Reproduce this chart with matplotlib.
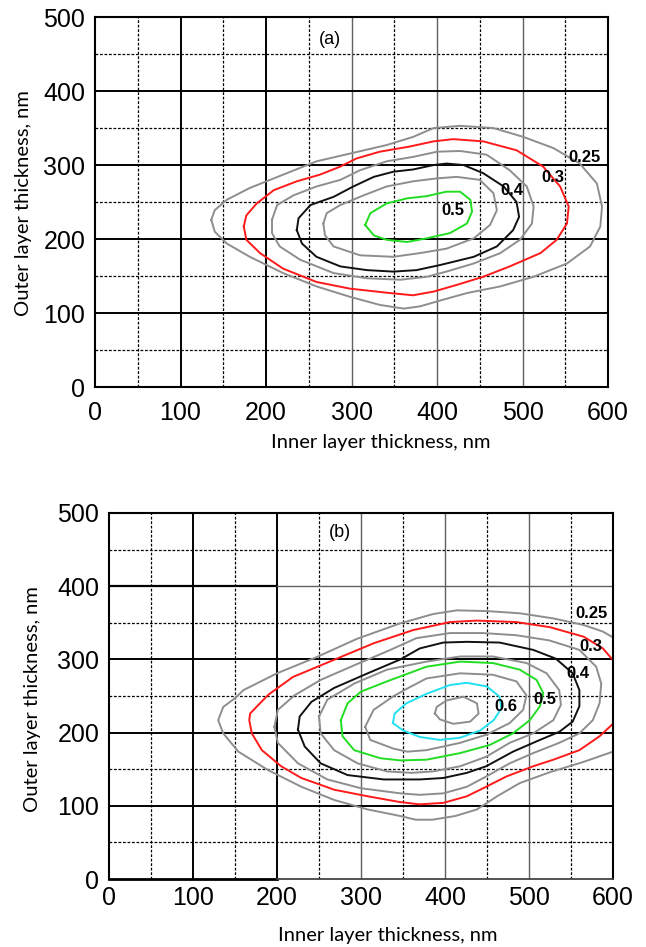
import numpy as np
import matplotlib
matplotlib.use("Agg")
from matplotlib import pyplot as plt

# contour lines, (inner nm, outer nm)
a_levels = ["0.25", "0.3", "0.35", "0.4", "0.45", "0.5"]
a_025 = [(136,226),(140,239),(154,253),(181,269),(220,287),(259,305),(300,316),(341,327),(372,338),(396,350),(427,353),(466,350),(501,338),(536,323),(567,302),(587,275),(593,244),(591,217),(579,190),(552,167),(513,149),(474,136),(435,127),(407,118),(380,109),(361,106),(333,111),(298,122),(259,136),(220,154),(181,176),(154,194),(140,210)]
a_030 = [(174,217),(177,232),(189,248),(209,266),(236,278),(263,287),(287,298),(306,309),(333,318),(368,325),(396,332),(419,335),(454,332),(493,320),(524,298),(544,271),(554,244),(552,221),(540,199),(521,181),(485,163),(454,149),(423,138),(396,129),(372,124),(345,127),(298,133),(259,142),(220,160),(193,181),(177,199)]
a_035 = [(207,226),(213,246),(232,259),(259,271),(287,280),(310,293),(341,305),(372,311),(400,318),(427,319),(458,314),(485,293),(505,271),(513,244),(511,221),(497,199),(474,181),(443,167),(411,156),(388,149),(357,145),(318,147),(279,154),(240,172),(216,190),(207,208)]
a_040 = [(236,212),(238,228),(252,246),(279,257),(302,271),(326,284),(349,291),(372,294),(396,300),(411,302),(431,300),(454,289),(478,271),(493,250),(496,230),(489,212),(470,190),(443,176),(404,165),(376,158),(349,156),(318,158),(287,163),(259,176),(242,194)]
a_045 = [(267,221),(271,235),(287,246),(314,259),(341,271),(372,278),(400,282),(423,284),(450,280),(466,262),(470,239),(462,219),(443,201),(411,187),(380,181),(349,176),(310,178),(279,190),(269,205)]
a_050 = [(316,219),(322,235),(341,248),(365,255),(388,258),(411,264),(427,264),(439,253),(441,237),(435,221),(415,208),(388,201),(365,196),(341,199),(326,205)]
a_lines = [a_025, a_030, a_035, a_040, a_045, a_050]
a_labels = [("0.25", 572, 310), ("0.3", 535, 283), ("0.4", 488, 265), ("0.5", 419, 239)]

b_levels = ["0.25", "0.3", "0.35", "0.4", "0.45", "0.5", "0.55", "0.6", "0.65"]
b_025 = [(600,174),(565,160),(525,146),(489,131),(462,113),(438,95),(412,86),(385,81),(365,81),(347,86),(308,95),(268,108),(229,126),(189,149),(154,174),(136,199),(130,217),(136,235),(150,247),(160,258),(200,281),(247,303),(295,328),(346,349),(386,362),(414,367),(450,366),(489,363),(529,356),(565,347),(588,338),(600,330)]
b_030 = [(600,212),(584,195),(560,176),(529,163),(505,154),(473,140),(449,126),(426,113),(398,104),(370,102),(347,105),(308,113),(268,122),(229,138),(205,154),(182,176),(170,199),(167,217),(168,226),(178,238),(190,252),(219,276),(267,299),(315,322),(362,340),(406,351),(438,353),(485,351),(525,344),(565,331),(588,315),(600,299)]
b_035 = [(197,208),(201,231),(221,251),(252,272),(292,292),(331,311),(366,329),(406,336),(445,336),(485,333),(524,326),(560,313),(580,290),(586,267),(584,240),(576,217),(560,199),(536,186),(505,172),(477,158),(449,140),(426,126),(398,117),(370,115),(347,117),(300,124),(260,136),(225,158),(201,186)]
b_040 = [(225,204),(227,222),(241,242),(268,261),(308,281),(347,300),(370,315),(398,323),(426,324),(465,323),(505,313),(532,301),(552,281),(560,258),(560,236),(552,215),(536,201),(513,190),(481,174),(449,154),(426,145),(398,138),(370,136),(347,136),(327,136),(284,142),(252,158),(233,181)]
b_045 = [(250,222),(260,245),(292,267),(331,286),(378,297),(418,304),(457,304),(497,295),(521,281),(536,258),(538,238),(529,217),(505,199),(477,186),(449,167),(418,154),(386,147),(360,145),(331,147),(296,158),(268,176),(252,199)]
b_050 = [(276,217),(284,240),(300,256),(331,270),(378,290),(418,297),(457,295),(489,286),(509,272),(517,254),(513,236),(501,217),(481,199),(453,183),(418,172),(378,163),(347,162),(323,165),(292,176),(278,195)]
b_055 = [(305,208),(315,231),(339,250),(358,262),(378,274),(418,281),(457,279),(485,270),(497,251),(493,231),(477,213),(449,197),(418,186),(378,176),(355,174),(339,178),(311,190)]
b_060 = [(338,213),(340,226),(354,240),(378,253),(406,265),(426,268),(450,263),(465,249),(467,233),(458,217),(442,203),(418,193),(394,190),(370,194),(350,203)]
b_065 = [(388,226),(390,235),(402,244),(422,249),(438,240),(440,226),(430,215),(410,212),(394,218)]
b_lines = [b_025, b_030, b_035, b_040, b_045, b_050, b_055, b_060, b_065]
b_open = [True, True] + [False] * 7
b_labels = [("0.25", 574, 363), ("0.3", 574, 317), ("0.4", 558, 281), ("0.5", 519, 245), ("0.6", 472, 235)]

level_colors = {"0.25": "#8e8e8e", "0.3": "#ff1a1a", "0.35": "#8e8e8e", "0.4": "#111111",
                "0.45": "#8e8e8e", "0.5": "#22dd22", "0.55": "#8e8e8e", "0.6": "#22e0f0",
                "0.65": "#8e8e8e"}

dash = (0, (2.2, 1.4))


def setup(ax, panel_b=False):
    ax.set_xlim(0, 600)
    ax.set_ylim(0, 500)
    ax.set_xticks(range(0, 601, 100))
    ax.set_yticks(range(0, 501, 100))
    ax.tick_params(length=0, labelsize=18, pad=7)
    ax.tick_params(axis="x", pad=10 if not panel_b else 5)
    for lab in ax.get_xticklabels() + ax.get_yticklabels():
        lab.set_fontfamily("Liberation Sans")
    for v in [50, 150, 250, 350, 450, 550]:
        ax.axvline(v, color="black", lw=0.9, ls=dash, zorder=1)
    for h in [50, 150, 250, 350, 450]:
        ax.axhline(h, color="black", lw=0.9, ls=dash, zorder=1)
    for v in [100, 200]:
        ax.axvline(v, color="black", lw=1.4, zorder=1)
    for v in [300, 400, 500]:
        ax.axvline(v, color="#606060", lw=1.0, zorder=1)
    for h in [100, 200, 300]:
        ax.axhline(h, color="black", lw=1.4, zorder=1)
    if panel_b:
        ax.plot([0, 200], [400, 400], color="black", lw=1.6, zorder=1)
        ax.plot([200, 600], [400, 400], color="#606060", lw=1.0, zorder=1)
        ax.spines["bottom"].set_visible(False)
        ax.plot([0, 200], [0, 0], color="black", lw=2.0, zorder=3, clip_on=False)
        ax.plot([200, 600], [0, 0], color="#444444", lw=1.3, zorder=3, clip_on=False)
    else:
        ax.axhline(400, color="black", lw=1.4, zorder=1)
    for s in ax.spines.values():
        s.set_linewidth(1.5)


fig = plt.figure(figsize=(6.46, 9.47), dpi=100)

ax1 = fig.add_axes([0.1471, 0.5913, 0.7941, 0.3907])
setup(ax1)
for lev, pts in zip(a_levels, a_lines):
    p = np.array(pts + [pts[0]])
    ax1.plot(p[:, 0], p[:, 1], color=level_colors[lev], lw=1.4, zorder=2,
             solid_joinstyle="round")
for txt, x, y in a_labels:
    ax1.text(x, y, txt, fontsize=12, fontweight="bold", family="Liberation Sans",
             ha="center", va="center", zorder=4)
ax1.text(275, 469, "(a)", fontsize=13, family="Liberation Sans", ha="center", va="center")

ax2 = fig.add_axes([0.1687, 0.0718, 0.7802, 0.3865])
setup(ax2, panel_b=True)
for lev, pts, op in zip(b_levels, b_lines, b_open):
    p = np.array(pts if op else pts + [pts[0]])
    ax2.plot(p[:, 0], p[:, 1], color=level_colors[lev], lw=1.4, zorder=2,
             solid_joinstyle="round")
for txt, x, y in b_labels:
    ax2.text(x, y, txt, fontsize=12, fontweight="bold", family="Liberation Sans",
             ha="center", va="center", zorder=4)
ax2.text(275, 473, "(b)", fontsize=13, family="Liberation Sans", ha="center", va="center")

lab_font = dict(fontsize=14.5, family="Lato")
fig.text(0.590, 0.533, "Inner layer thickness, nm", ha="center", va="center", **lab_font)
fig.text(0.600, 0.012, "Inner layer thickness, nm", ha="center", va="center", **lab_font)
fig.text(0.036, 0.786, "Outer layer thickness, nm", ha="center", va="center", rotation=90, **lab_font)
fig.text(0.051, 0.262, "Outer layer thickness, nm", ha="center", va="center", rotation=90, **lab_font)

fig.savefig("out.png", dpi=100)
